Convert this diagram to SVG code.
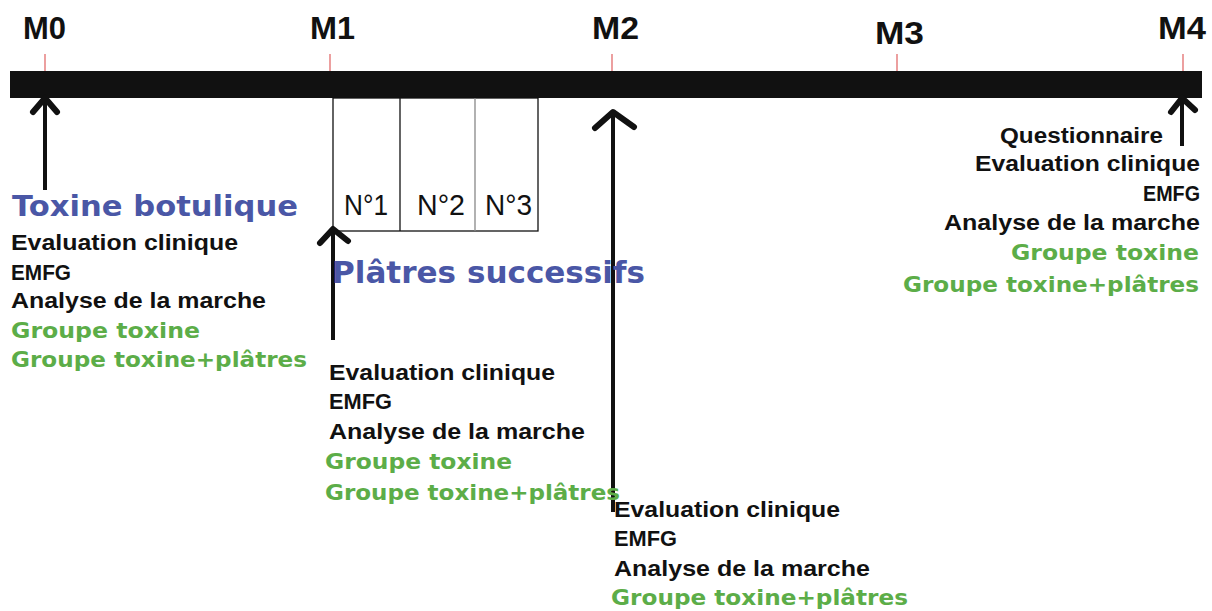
<svg xmlns="http://www.w3.org/2000/svg" width="1212" height="611" viewBox="0 0 1212 611">
<style>
.m{font-family:"Liberation Sans",Arial,sans-serif;font-weight:bold;font-size:31px;fill:#111}
.k{font-family:"Liberation Sans",Arial,sans-serif;font-weight:bold;font-size:22px;fill:#111}
.g{font-family:"DejaVu Sans","Liberation Sans",sans-serif;font-weight:bold;font-size:21px;fill:#5cad48}
.b{font-family:"DejaVu Sans","Liberation Sans",sans-serif;font-weight:bold;fill:#4a57a6}
.n{font-family:"Liberation Sans",Arial,sans-serif;font-size:30px;fill:#111}
.tick{stroke:#e06060;stroke-width:1.2}
.shaft{stroke:#111;stroke-width:4;fill:none}
.head{stroke:#111;stroke-width:6;fill:none;stroke-linecap:round;stroke-linejoin:round}
</style>
<rect width="1212" height="611" fill="#fff"/>
<g id="timeline">
<rect x="10" y="71" width="1192" height="27" fill="#111"/>
<line class="tick" x1="45" y1="54" x2="45" y2="71"/>
<line class="tick" x1="330" y1="54" x2="330" y2="71"/>
<line class="tick" x1="612" y1="54" x2="612" y2="71"/>
<line class="tick" x1="897" y1="54" x2="897" y2="71"/>
<line class="tick" x1="1183" y1="54" x2="1183" y2="71"/>
</g>
<g id="labels">
<text class="m" x="23" y="39" textLength="43" lengthAdjust="spacingAndGlyphs">M0</text>
<text class="m" x="310" y="39" textLength="45" lengthAdjust="spacingAndGlyphs">M1</text>
<text class="m" x="592" y="39" textLength="47" lengthAdjust="spacingAndGlyphs">M2</text>
<text class="m" x="875" y="44" textLength="49" lengthAdjust="spacingAndGlyphs">M3</text>
<text class="m" x="1158" y="39" textLength="48" lengthAdjust="spacingAndGlyphs">M4</text>
</g>
<g id="platres-box">
<rect x="333" y="98" width="205" height="133" fill="#fff" stroke="#111" stroke-width="1.3"/>
<line x1="400" y1="98" x2="400" y2="231" stroke="#111" stroke-width="1.3"/>
<line x1="475" y1="98" x2="475" y2="231" stroke="#888" stroke-width="1.3"/>
<text class="n" x="344" y="215" textLength="44" lengthAdjust="spacingAndGlyphs">N°1</text>
<text class="n" x="417" y="215" textLength="48" lengthAdjust="spacingAndGlyphs">N°2</text>
<text class="n" x="485" y="215" textLength="47" lengthAdjust="spacingAndGlyphs">N°3</text>
</g>
<g id="connectors">
<line class="shaft" x1="45" y1="99" x2="45" y2="190"/>
<polyline class="head" points="33,112 45,98 57,112"/>
<line class="shaft" x1="333" y1="230" x2="333" y2="340"/>
<polyline class="head" points="320,243 333,229 348,241"/>
<line class="shaft" x1="613" y1="113" x2="613" y2="512"/>
<polyline class="head" points="595,128 613,112 634,127"/>
<line class="shaft" x1="1182" y1="99" x2="1182" y2="146"/>
<polyline class="head" points="1171,112 1182,98 1195,110"/>
</g>
<g id="m0-block">
<text class="b" x="12" y="216" font-size="29" textLength="286" lengthAdjust="spacingAndGlyphs">Toxine botulique</text>
<text class="k" x="11" y="250" textLength="227" lengthAdjust="spacingAndGlyphs">Evaluation clinique</text>
<text class="k" x="11" y="280" textLength="60" lengthAdjust="spacingAndGlyphs">EMFG</text>
<text class="k" x="11" y="308" textLength="255" lengthAdjust="spacingAndGlyphs">Analyse de la marche</text>
<text class="g" x="11" y="338" textLength="189" lengthAdjust="spacingAndGlyphs">Groupe toxine</text>
<text class="g" x="11" y="367" textLength="296" lengthAdjust="spacingAndGlyphs">Groupe toxine+plâtres</text>
</g>
<g id="platres-label">
<text class="b" x="332" y="283" font-size="31" textLength="313" lengthAdjust="spacingAndGlyphs">Plâtres successifs</text>
</g>
<g id="m1-block">
<text class="k" x="329" y="380" textLength="226" lengthAdjust="spacingAndGlyphs">Evaluation clinique</text>
<text class="k" x="329" y="409" textLength="63" lengthAdjust="spacingAndGlyphs">EMFG</text>
<text class="k" x="329" y="439" textLength="256" lengthAdjust="spacingAndGlyphs">Analyse de la marche</text>
<text class="g" x="325" y="469" textLength="187" lengthAdjust="spacingAndGlyphs">Groupe toxine</text>
<text class="g" x="325" y="500" textLength="295" lengthAdjust="spacingAndGlyphs">Groupe toxine+plâtres</text>
</g>
<g id="m2-block">
<text class="k" x="614" y="517" textLength="226" lengthAdjust="spacingAndGlyphs">Evaluation clinique</text>
<text class="k" x="614" y="546" textLength="63" lengthAdjust="spacingAndGlyphs">EMFG</text>
<text class="k" x="614" y="576" textLength="256" lengthAdjust="spacingAndGlyphs">Analyse de la marche</text>
<text class="g" x="611" y="605" textLength="297" lengthAdjust="spacingAndGlyphs">Groupe toxine+plâtres</text>
</g>
<g id="m4-block">
<text class="k" x="1000" y="143" textLength="163" lengthAdjust="spacingAndGlyphs">Questionnaire</text>
<text class="k" x="975" y="171" textLength="225" lengthAdjust="spacingAndGlyphs">Evaluation clinique</text>
<text class="k" x="1143" y="201" textLength="57" lengthAdjust="spacingAndGlyphs">EMFG</text>
<text class="k" x="944" y="230" textLength="256" lengthAdjust="spacingAndGlyphs">Analyse de la marche</text>
<text class="g" x="1011" y="260" textLength="188" lengthAdjust="spacingAndGlyphs">Groupe toxine</text>
<text class="g" x="903" y="292" textLength="296" lengthAdjust="spacingAndGlyphs">Groupe toxine+plâtres</text>
</g>
</svg>
